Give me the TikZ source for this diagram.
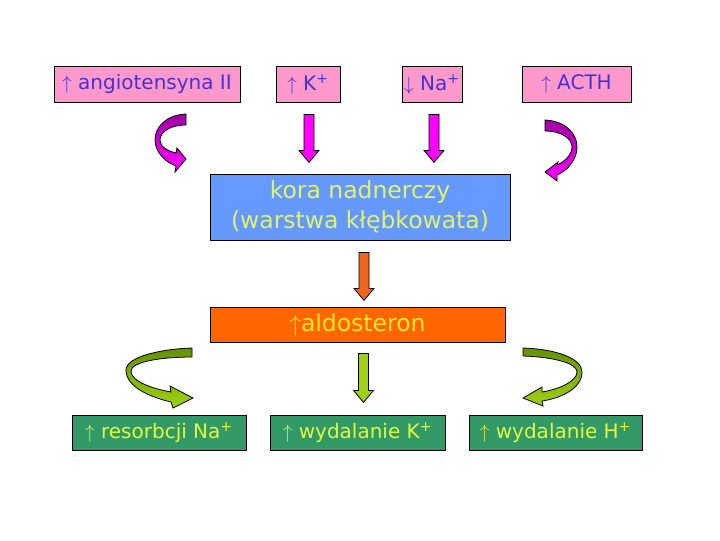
\documentclass[tikz,border=0pt]{standalone}
\usepackage{fontspec}
\setmainfont{DejaVu Sans}
\usetikzlibrary{calc}

\definecolor{boxpink}{RGB}{255,153,204}
\definecolor{textviolet}{RGB}{70,50,210}
\definecolor{boxblue}{RGB}{102,153,255}
\definecolor{textlime}{RGB}{225,245,100}
\definecolor{boxorange}{RGB}{255,102,0}
\definecolor{textyellow}{RGB}{255,230,40}
\definecolor{boxgreen}{RGB}{51,153,102}
\definecolor{textgreenyellow}{RGB}{225,250,60}
\definecolor{arrowmagenta}{RGB}{255,0,255}
\definecolor{arrowpurple}{RGB}{160,0,165}
\definecolor{arroworange}{RGB}{240,100,30}
\definecolor{arrowlime}{RGB}{160,210,20}
\definecolor{arrowolive}{RGB}{100,145,0}

\tikzset{
  box/.style={draw=black, line width=0.6pt, inner sep=0pt, align=center},
  topbox/.style={box, fill=boxpink, text=textviolet, minimum height=27pt,
    font=\fontsize{15}{17}\selectfont},
  lowbox/.style={box, fill=boxgreen, text=textgreenyellow, minimum height=26.25pt,
    font=\fontsize{15}{17}\selectfont},
  pics/downarrow/.style 2 args={code={
    \draw[fill=#1, line width=0.6pt] (-5,0) -- (5,0) -- (5,#2-12) -- (10,#2-12)
      -- (0,#2) -- (-10,#2-12) -- (-5,#2-12) -- cycle;
  }}
}

\begin{document}
\begin{tikzpicture}[x=0.75pt, y=-0.75pt]
    \useasboundingbox (0,0) rectangle (720,540);
    % top row
    \node[topbox, minimum width=139.5pt] (angio) at (147,84) {$\uparrow$ angiotensyna II};
    \node[topbox, minimum width=48pt] (kplus) at (308,84) {$\uparrow$ K\textsuperscript{+}};
    \node[topbox, minimum width=45pt] (naplus) at (432,84) {$\downarrow$ Na\textsuperscript{+}};
    \node[topbox, minimum width=81.75pt] (acth) at (576.5,84) {$\uparrow$ ACTH};
    % adrenal cortex and hormone
    \node[box, fill=boxblue, text=textlime, minimum width=225pt, minimum height=49.5pt,
      font=\fontsize{17.6}{22.5}\selectfont] (kora) at (360,207) {kora nadnerczy\\(warstwa kłębkowata)};
    \node[box, fill=boxorange, text=textyellow, minimum width=221.25pt, minimum height=26.25pt,
      font=\fontsize{17.6}{20}\selectfont] (aldo) at (357.5,324.5) {$\uparrow$aldosteron};
    % bottom row
    \node[lowbox, minimum width=130.5pt] (resorb) at (159,432.5) {$\uparrow$ resorbcji Na\textsuperscript{+}};
    \node[lowbox, minimum width=131.25pt] (wydk) at (357.5,432.5) {$\uparrow$ wydalanie K\textsuperscript{+}};
    \node[lowbox, minimum width=129.75pt] (wydh) at (555.5,432.5) {$\uparrow$ wydalanie H\textsuperscript{+}};
    % straight arrows
    \path ($(kplus.south)+(1,12)$) pic {downarrow={arrowmagenta}{48}};
    \path ($(naplus.south)+(2,12)$) pic {downarrow={arrowmagenta}{48}};
    \path ($(kora.south)+(4,12)$) pic {downarrow={arroworange}{48}};
    \path ($(aldo.south)+(6,11)$) pic {downarrow={arrowlime}{49}};
    % curved arrows, top
    \draw[top color=arrowpurple, bottom color=arrowmagenta, line width=0.6pt]
      (186,114) .. controls (166,115) and (155,127) .. (155,140)
      .. controls (155,152) and (165,162) .. (176,166) -- (175,172) -- (186,159)
      -- (177,148) -- (176,153) .. controls (168,151) and (160,147) .. (160,140)
      .. controls (160,132) and (170,125) .. (186,125) -- cycle;
    \draw[top color=arrowpurple, bottom color=arrowmagenta, line width=0.6pt]
      (545,120) .. controls (565,121) and (577,133) .. (577,147)
      .. controls (577,160) and (567,171) .. (557,175) -- (557,181) -- (545,172)
      -- (558,162) -- (557,165) .. controls (566,161) and (572,154) .. (572,147)
      .. controls (572,139) and (562,131) .. (545,131) -- cycle;
    % curved arrows, bottom
    \draw[top color=arrowolive, bottom color=arrowlime, line width=0.6pt]
      (192,348) .. controls (160,349) and (126,357) .. (126,370)
      .. controls (126,387) and (150,397) .. (171,402) -- (173,408) -- (193,398)
      -- (170,386) -- (171,392) .. controls (150,388) and (131,381) .. (131,371)
      .. controls (131,362) and (160,357) .. (192,357) -- cycle;
    \draw[top color=arrowolive, bottom color=arrowlime, line width=0.6pt]
      (523,348) .. controls (555,349) and (582,358) .. (582,372)
      .. controls (582,388) and (562,398) .. (542,401) -- (543,406) -- (523,398)
      -- (542,387) -- (542,392) .. controls (560,389) and (577,381) .. (577,372)
      .. controls (577,363) and (553,357) .. (523,356) -- cycle;
\end{tikzpicture}
\end{document}
